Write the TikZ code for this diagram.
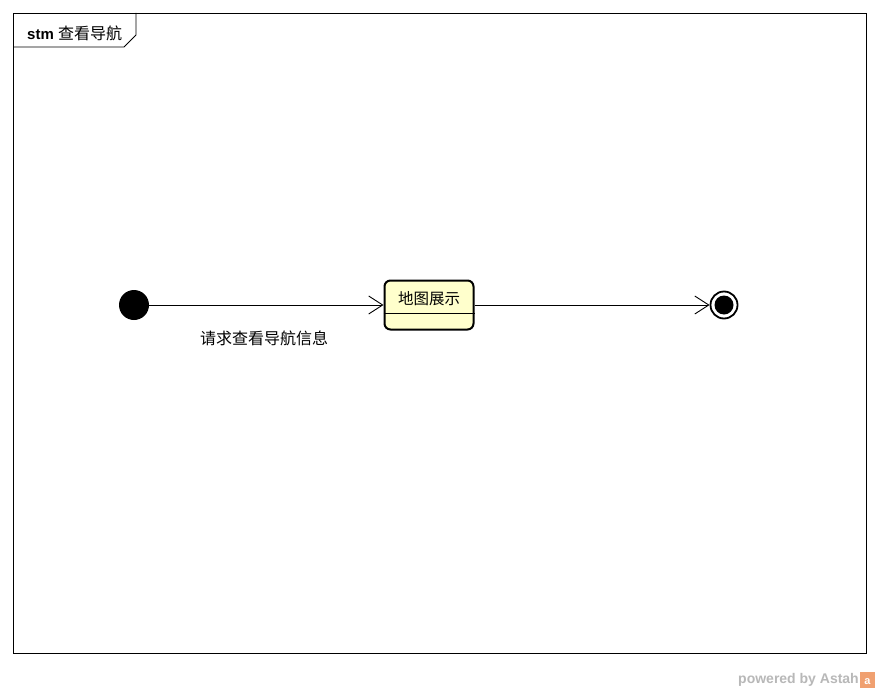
\documentclass[tikz,border=0pt]{standalone}
\usepackage{fontspec}
\setmainfont{Liberation Sans}
\newfontfamily\cjk{Noto Sans CJK SC}
\usetikzlibrary{arrows.meta}
\definecolor{statefill}{HTML}{FFFFCC}
\definecolor{astahorange}{HTML}{F0A070}
\tikzset{
  conn/.style={draw=black, line width=0.9pt, -{Straight Barb[length=14pt,width=18pt,line width=0.9pt]}},
  statebox/.style={draw=black, fill=statefill, line width=2pt, rounded corners=6pt, minimum width=89pt, minimum height=49pt, inner sep=0pt},
  lbl/.style={font=\cjk\fontsize{15.5pt}{17pt}\selectfont, inner sep=0pt}
}
\begin{document}
\begin{tikzpicture}[x=1pt,y=-1pt]
\useasboundingbox (0,0) rectangle (880,693);
\fill[white] (0,0) rectangle (880,693);
% frame
\draw[line width=0.8pt] (13,13) rectangle (866,653);
\draw[line width=0.8pt] (13,47) -- (124,47) -- (136,35) -- (136,13);
\node[anchor=west, inner sep=0pt] (title) at (27,33) {\fontsize{15pt}{17pt}\selectfont\bfseries stm \normalfont\cjk\fontsize{16pt}{17pt}\selectfont 查看导航};
% initial
\node[circle, fill=black, minimum size=30pt, inner sep=0pt] (init) at (134,305) {};
% state
\node[statebox] (state) at (429,305) {};
\draw[line width=0.9pt] (state.west |- 0,313) -- (state.east |- 0,313);
\node[lbl] (stext) at (429,299) {地图展示};
% final
\node[circle, draw=black, line width=1.8pt, fill=white, minimum size=27pt, inner sep=0pt] (final) at (724,305) {};
\node[circle, fill=black, minimum size=19pt, inner sep=0pt] (finalin) at (724,305) {};
% transitions
\draw[conn] (init) -- (state);
\draw[conn] (state) -- (final);
\node[lbl, font=\cjk\fontsize{16pt}{17pt}\selectfont] (tlabel) at (264,338) {请求查看导航信息};
% watermark
\node[anchor=east, inner sep=0pt, text=black!28, font=\fontsize{14pt}{16pt}\selectfont\bfseries] (wm) at (859,680) {powered by Astah};
\fill[astahorange] (860,672) rectangle (875,688);
\node[inner sep=0pt, text=white, font=\fontsize{11pt}{12pt}\selectfont\bfseries] (wmicon) at (867.5,682) {a};
\end{tikzpicture}
\end{document}
